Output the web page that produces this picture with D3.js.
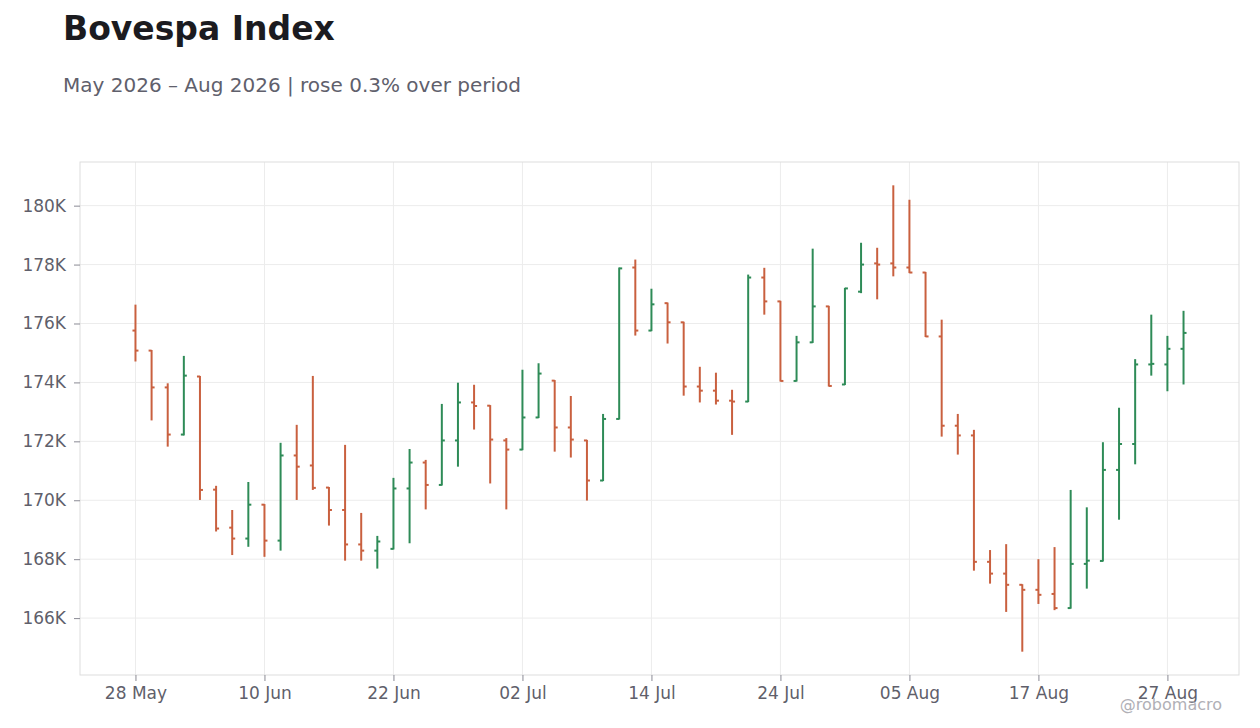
<!DOCTYPE html>
<html>
<head>
<meta charset="utf-8">
<script src="https://cdn.jsdelivr.net/npm/d3@7"></script>
<style>
	body { margin: 0; background: #fff; font-family: "DejaVu Sans", sans-serif; }
	.axis text { fill: #5f5f6b; font-size: 17px; font-family: "DejaVu Sans", sans-serif; }
	.axis line { stroke: #8a8a94; }
	.axis path { display: none; }
	.grid line { stroke: #ececec; }
</style>
</head>
<body>
<svg id="chart" width="1260" height="728"></svg>
<script>
// trading days (B3), May 28 – Aug 28 2026
let dates = [
	"2026-05-28","2026-05-29","2026-06-01","2026-06-02","2026-06-03","2026-06-05","2026-06-08","2026-06-09",
	"2026-06-10","2026-06-11","2026-06-12","2026-06-15","2026-06-16","2026-06-17","2026-06-18","2026-06-19",
	"2026-06-22","2026-06-23","2026-06-24","2026-06-25","2026-06-26","2026-06-29","2026-06-30","2026-07-01",
	"2026-07-02","2026-07-03","2026-07-06","2026-07-07","2026-07-08","2026-07-09","2026-07-10","2026-07-13",
	"2026-07-14","2026-07-15","2026-07-16","2026-07-17","2026-07-20","2026-07-21","2026-07-22","2026-07-23",
	"2026-07-24","2026-07-27","2026-07-28","2026-07-29","2026-07-30","2026-07-31","2026-08-03","2026-08-04",
	"2026-08-05","2026-08-06","2026-08-07","2026-08-10","2026-08-11","2026-08-12","2026-08-13","2026-08-14",
	"2026-08-17","2026-08-18","2026-08-19","2026-08-20","2026-08-21","2026-08-24","2026-08-25","2026-08-26",
	"2026-08-27","2026-08-28"
];

let open = [
	175760,175080,173830,172230,174200,170360,169070,168700,169850,168630,171520,171180,170430,169670,168500,168290,
	168350,170400,171280,170520,172030,173320,173210,172030,171720,172810,174060,172470,172030,170670,172760,177900,
	175760,176690,176040,173860,173720,173380,173350,177560,176750,174050,175360,176580,173930,177080,178040,178040,
	177900,177730,175560,172530,172200,167910,167510,167130,166960,166820,166340,167840,167940,171030,171910,174610,
	174610,175140
];
let high = [
	176640,175100,173970,174900,174220,170490,169670,170620,169870,171950,172560,174220,170450,171880,169570,168790,
	170760,171740,171370,173270,173990,173920,173230,172110,174430,174650,174080,173540,172050,172930,177900,178170,
	177180,176710,176060,174530,174330,173750,177660,177890,176770,175580,178540,176600,177210,178740,178570,180690,
	180200,177750,176130,172930,172390,168310,168510,167150,168000,168410,170350,169760,171970,173140,174790,176300,
	175580,176430
];
let low = [
	174710,172710,171820,172200,170010,168940,168140,168420,168080,168290,170010,170350,169140,167950,167950,167680,
	168330,168540,169690,170500,171140,172400,170570,169690,171700,172790,171650,171450,169990,170650,172740,175590,
	175740,175320,173550,173320,173250,172220,173330,176300,174030,174030,175340,173860,173910,177030,176820,177600,
	177710,175540,172160,171550,167610,167170,166210,164860,166480,166270,166320,167000,167920,169340,171220,174230,
	173700,173930
];
let close = [
	175080,173830,172230,174230,170350,169040,168700,169850,168630,171520,171140,170420,169670,168500,168290,168600,
	170400,171280,170520,172030,173320,173200,172060,171720,172810,174300,172470,172060,170670,172760,177870,175760,
	176650,176040,173860,173720,173380,173350,177560,176750,174050,175360,176580,173880,177190,178000,178000,177900,
	177730,175560,172530,172200,167910,167510,167130,166960,166790,166340,167840,167950,171030,171910,174610,174630,
	175140,175680
];

let upColor = "#2e8b57";
let downColor = "#c9603f";

let svg = d3.select("#chart");
let plot = { left: 80, right: 1239, top: 162, bottom: 675 };

let parse = d3.timeParse("%Y-%m-%d");
let fmtDay = d3.timeFormat("%d %b");

let data = dates.map(function (d, i) {
	return { date: d, o: open[i], h: high[i], l: low[i], c: close[i] };
});

// title + subtitle
let change = (close[close.length - 1] / close[0] - 1) * 100;
svg.append("text")
	.attr("x", 63).attr("y", 40)
	.attr("font-size", 33).attr("font-weight", "bold")
	.attr("fill", "#1b1b20")
	.text("Bovespa Index");
svg.append("text")
	.attr("x", 63).attr("y", 92)
	.attr("font-size", 20)
	.attr("fill", "#60606c")
	.text("May 2026 – Aug 2026 | " + (change >= 0 ? "rose " : "fell ") + Math.abs(change).toFixed(1) + "% over period");

let x = d3.scalePoint()
	.domain(dates)
	.range([plot.left, plot.right])
	.padding(3.44);

let lo = d3.min(low), hi = d3.max(high);
let pad = (hi - lo) * 0.05;
let y = d3.scaleLinear()
	.domain([lo - pad, hi + pad])
	.range([plot.bottom, plot.top]);

let xTicks = dates.filter(function (d, i) { return i % 8 == 0; });
let yTicks = y.ticks(8);

// grid
let grid = svg.append("g").attr("class", "grid");
grid.selectAll(".gy").data(yTicks).enter().append("line")
	.attr("x1", plot.left).attr("x2", plot.right)
	.attr("y1", function (d) { return y(d); })
	.attr("y2", function (d) { return y(d); });
grid.selectAll(".gx").data(xTicks).enter().append("line")
	.attr("y1", plot.top).attr("y2", plot.bottom)
	.attr("x1", function (d) { return x(d); })
	.attr("x2", function (d) { return x(d); });

svg.append("rect")
	.attr("x", plot.left).attr("y", plot.top)
	.attr("width", plot.right - plot.left)
	.attr("height", plot.bottom - plot.top)
	.attr("fill", "none")
	.attr("stroke", "#dddddd");

// axes
svg.append("g")
	.attr("class", "axis axis--x")
	.attr("transform", "translate(0," + plot.bottom + ")")
	.call(d3.axisBottom(x).tickValues(xTicks).tickSize(6).tickPadding(6)
		.tickFormat(function (d) { return fmtDay(parse(d)); }));

svg.append("g")
	.attr("class", "axis axis--y")
	.attr("transform", "translate(" + plot.left + ",0)")
	.call(d3.axisLeft(y).tickValues(yTicks).tickSize(6).tickPadding(8)
		.tickFormat(function (d) { return (d / 1000) + "K"; }));

// OHLC bars
let tick = 3;
let bars = svg.append("g").selectAll(".ohlc")
	.data(data).enter().append("g")
	.attr("class", "ohlc")
	.attr("stroke", function (d) { return d.c >= d.o ? upColor : downColor; })
	.attr("stroke-width", 2);

bars.append("line")
	.attr("x1", function (d) { return x(d.date); })
	.attr("x2", function (d) { return x(d.date); })
	.attr("y1", function (d) { return y(d.h); })
	.attr("y2", function (d) { return y(d.l); });
bars.append("line")
	.attr("x1", function (d) { return x(d.date) - tick; })
	.attr("x2", function (d) { return x(d.date); })
	.attr("y1", function (d) { return y(d.o); })
	.attr("y2", function (d) { return y(d.o); });
bars.append("line")
	.attr("x1", function (d) { return x(d.date); })
	.attr("x2", function (d) { return x(d.date) + tick; })
	.attr("y1", function (d) { return y(d.c); })
	.attr("y2", function (d) { return y(d.c); });

// watermark
svg.append("text")
	.attr("x", 1222).attr("y", 710)
	.attr("text-anchor", "end")
	.attr("font-size", 16)
	.attr("fill", "#b0b0b6")
	.text("@robomacro");
</script>
</body>
</html>
